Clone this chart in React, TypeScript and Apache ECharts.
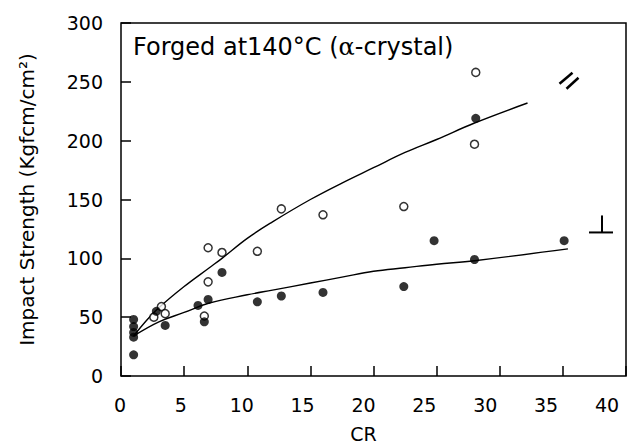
import React, { useEffect, useRef } from "react";
import * as echarts from "echarts";

// Open circles
const openCR = [2.6, 3.2, 3.5, 6.6, 6.9, 6.9, 8.0, 10.8, 12.7, 16.0, 22.4, 28.1, 28.0];
const openImpact = [50, 59, 53, 51, 80, 109, 105, 106, 142, 137, 144, 258, 197];

// Filled circles
const filledCR = [1, 1, 1, 1, 1, 2.8, 3.5, 6.1, 6.6, 6.9, 8.0, 10.8, 12.7, 16.0, 22.4, 24.8, 28.1, 28.0, 35.1];
const filledImpact = [48, 42, 37, 33, 18, 55, 43, 60, 46, 65, 88, 63, 68, 71, 76, 115, 219, 99, 115];

// Fitted curves
const upperFitCR = [1, 2, 3, 5, 7, 8, 10, 12, 15, 17.5, 20, 22.5, 25, 28, 32.2];
const upperFitImpact = [34, 47, 58, 76, 92, 100, 117, 131, 150, 164, 177, 190, 201, 215, 232];
const lowerFitCR = [1, 3, 5, 7, 10, 12, 15, 17.5, 20, 22.5, 25, 28, 35.4];
const lowerFitImpact = [34, 46, 54, 62, 69, 73, 79, 84, 89, 92, 95, 98, 108];

const xMin = 0, xMax = 40, xStep = 5;
const yMin = 0, yMax = 300, yStep = 50;

const zip = (a: number[], b: number[]) => a.map((v, i) => [v, b[i]]);

export default function App() {
  const ref = useRef<HTMLDivElement>(null);
  useEffect(() => {
    const chart = echarts.init(ref.current!, null, { renderer: "svg" });
    const font = "DejaVu Sans";
    const black = "#000";
    chart.setOption({
      animation: false,
      backgroundColor: "#fff",
      textStyle: { fontFamily: font, color: black },
      grid: [
        { left: 121, right: 16, top: 23, bottom: 72, show: true, borderColor: black, borderWidth: 1.5 },
        { left: 120, right: 35, top: 23, bottom: 72, show: false },
      ],
      xAxis: [
        {
          gridIndex: 0, type: "value", min: xMin, max: xMax, interval: xStep,
          axisLine: { show: false },
          axisTick: { show: true, inside: true, length: 10, lineStyle: { color: black, width: 1.5 } },
          axisLabel: { show: false },
          splitLine: { show: false },
        },
        {
          gridIndex: 1, type: "value", min: xMin, max: xMax, interval: xStep,
          axisLine: { show: false },
          axisTick: { show: false },
          axisLabel: { fontSize: 19, color: black, margin: 21, fontFamily: font },
          splitLine: { show: false },
          name: "CR", nameLocation: "middle", nameGap: 50,
          nameTextStyle: { fontSize: 19, color: black, fontFamily: font },
        },
      ],
      yAxis: [
        {
          gridIndex: 0, type: "value", min: yMin, max: yMax, interval: yStep,
          axisLine: { show: false },
          axisTick: { show: true, inside: true, length: 10, lineStyle: { color: black, width: 1.5 } },
          axisLabel: { fontSize: 19, color: black, margin: 18, fontFamily: font },
          splitLine: { show: false },
          name: "Impact Strength (Kgfcm/cm²)", nameLocation: "middle", nameGap: 84, nameRotate: 90,
          nameTextStyle: { fontSize: 20, color: black, fontFamily: font },
        },
        { gridIndex: 1, type: "value", min: yMin, max: yMax, show: false },
      ],
      series: [
        {
          type: "line", xAxisIndex: 0, yAxisIndex: 0, data: zip(upperFitCR, upperFitImpact),
          smooth: 0.4, showSymbol: false, lineStyle: { color: black, width: 1.4 }, z: 2,
        },
        {
          type: "line", xAxisIndex: 0, yAxisIndex: 0, data: zip(lowerFitCR, lowerFitImpact),
          smooth: 0.4, showSymbol: false, lineStyle: { color: black, width: 1.4 }, z: 2,
        },
        {
          type: "scatter", xAxisIndex: 0, yAxisIndex: 0, data: zip(openCR, openImpact),
          symbol: "circle", symbolSize: 8,
          itemStyle: { color: "#fff", borderColor: black, borderWidth: 1.5 }, z: 3,
        },
        {
          type: "scatter", xAxisIndex: 0, yAxisIndex: 0, data: zip(filledCR, filledImpact),
          symbol: "circle", symbolSize: 9,
          itemStyle: { color: black }, z: 4,
        },
      ],
    });

    const p1 = chart.convertToPixel({ gridIndex: 0 }, [36, 245]) as number[];
    const p2 = chart.convertToPixel({ gridIndex: 0 }, [38.1, 122]) as number[];
    const ls = { stroke: black, lineWidth: 2.5 };
    chart.setOption({
      graphic: [
        {
          type: "text", left: 133, top: 35, z: 10,
          style: {
            text: "Forged at140°C ({a|α}-crystal)",
            font: `24px "${font}"`,
            fill: black,
            rich: { a: { fontFamily: "DejaVu Serif", fontSize: 24, fill: black } },
          },
        },
        { type: "line", shape: { x1: p1[0] - 16, y1: p1[1] - 4, x2: p1[0] - 3, y2: p1[1] - 15 }, style: ls },
        { type: "line", shape: { x1: p1[0] - 9, y1: p1[1] + 1, x2: p1[0] + 3, y2: p1[1] - 10 }, style: ls },
        { type: "line", shape: { x1: p2[0], y1: p2[1] - 17, x2: p2[0], y2: p2[1] }, style: { stroke: black, lineWidth: 2 } },
        { type: "line", shape: { x1: p2[0] - 13, y1: p2[1], x2: p2[0] + 11, y2: p2[1] }, style: { stroke: black, lineWidth: 2 } },
      ],
    });
    return () => chart.dispose();
  }, []);
  return <div ref={ref} style={{ position: "fixed", left: 0, top: 0, width: 642, height: 448 }} />;
}
